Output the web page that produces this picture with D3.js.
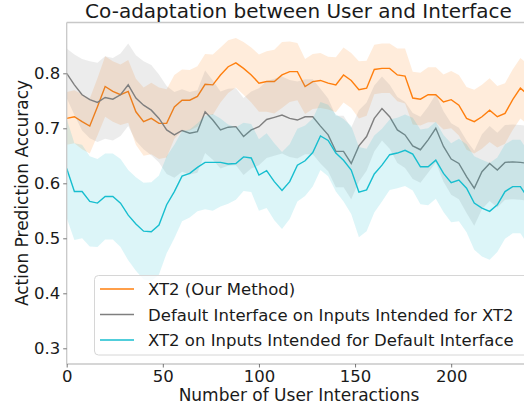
<!DOCTYPE html>
<html><head><meta charset="utf-8">
<script src="https://cdn.jsdelivr.net/npm/d3@7"></script>
<style>html,body{margin:0;padding:0;background:#fff;}svg{display:block;font-family:"DejaVu Sans",sans-serif;}</style>
</head><body><svg id="c" width="524" height="406"></svg>
<script>
const xs = d3.range(0, 241, 4);
const xTicks = [0, 50, 100, 150, 200];
const yTicks = [0.3, 0.4, 0.5, 0.6, 0.7, 0.8];
const seriesNames = ["XT2 (Our Method)", "Default Interface on Inputs Intended for XT2", "XT2 on Inputs Intended for Default Interface"];
const seriesColors = ["#ff7f0e", "#7f7f7f", "#17becf"];

const orangeMean = [0.718,0.721,0.712,0.704,0.739,0.776,0.767,0.761,0.767,0.730,0.712,0.718,0.709,0.709,0.739,0.751,0.751,0.758,0.780,0.779,
0.797,0.812,0.819,0.809,0.797,0.782,0.785,0.785,0.797,0.803,0.803,0.776,0.785,0.787,0.782,0.779,0.797,0.787,0.770,0.773,
0.807,0.809,0.809,0.797,0.795,0.755,0.753,0.761,0.761,0.748,0.752,0.742,0.718,0.712,0.721,0.733,0.721,0.727,0.752,0.773,0.761];
const greyMean = [0.800,0.779,0.761,0.752,0.747,0.756,0.753,0.761,0.779,0.755,0.742,0.733,0.718,0.697,0.688,0.696,0.691,0.694,0.730,0.715,
0.697,0.702,0.703,0.685,0.697,0.703,0.716,0.720,0.724,0.718,0.715,0.721,0.721,0.704,0.688,0.658,0.658,0.636,0.668,0.685,
0.718,0.736,0.721,0.697,0.688,0.668,0.661,0.679,0.700,0.667,0.644,0.636,0.612,0.591,0.621,0.636,0.624,0.638,0.639,0.638,0.636];
const tealMean = [0.627,0.585,0.585,0.567,0.564,0.576,0.576,0.564,0.542,0.526,0.513,0.512,0.524,0.561,0.585,0.613,0.618,0.629,0.638,0.638,
0.638,0.635,0.636,0.648,0.646,0.615,0.623,0.603,0.587,0.603,0.633,0.641,0.656,0.686,0.678,0.655,0.642,0.624,0.584,0.588,
0.617,0.633,0.652,0.655,0.660,0.653,0.630,0.630,0.642,0.618,0.601,0.606,0.591,0.564,0.555,0.549,0.561,0.585,0.594,0.594,0.573];

const orangeSpread = [0.048,0.048,0.05,0.05,0.052,0.055,0.055,0.055,0.057,0.06,0.062,0.065,0.065,0.062,0.058,0.056,0.055,0.055,0.055,0.055,
0.05,0.048,0.045,0.048,0.05,0.052,0.055,0.058,0.06,0.055,0.052,0.05,0.05,0.05,0.048,0.05,0.05,0.05,0.052,0.05,
0.045,0.045,0.045,0.048,0.05,0.048,0.048,0.05,0.05,0.05,0.052,0.055,0.057,0.058,0.058,0.058,0.056,0.055,0.055,0.055,0.055];
const greySpread = [0.045,0.055,0.065,0.07,0.072,0.075,0.075,0.075,0.075,0.078,0.08,0.082,0.08,0.08,0.078,0.075,0.075,0.075,0.075,0.072,
0.07,0.07,0.07,0.07,0.07,0.07,0.07,0.07,0.07,0.07,0.07,0.068,0.068,0.068,0.066,0.065,0.065,0.065,0.065,0.062,
0.06,0.058,0.058,0.06,0.06,0.06,0.06,0.06,0.062,0.064,0.065,0.065,0.066,0.068,0.068,0.068,0.068,0.068,0.068,0.068,0.068];
const tealSpread = [0.09,0.088,0.085,0.082,0.08,0.078,0.078,0.08,0.082,0.085,0.088,0.09,0.09,0.088,0.085,0.082,0.08,0.08,0.085,0.088,
0.08,0.072,0.066,0.062,0.062,0.065,0.068,0.07,0.07,0.068,0.066,0.064,0.062,0.062,0.065,0.07,0.075,0.08,0.082,0.075,
0.07,0.066,0.064,0.064,0.065,0.066,0.068,0.07,0.07,0.07,0.072,0.075,0.08,0.085,0.088,0.088,0.086,0.086,0.085,0.085,0.085];

const means = [orangeMean, greyMean, tealMean];
const spreads = [orangeSpread, greySpread, tealSpread];

const L = 66.7, R = 530, T = 22.5, B = 364;
const svg = d3.select("#c");
const x = d3.scaleLinear().domain([0, 241]).range([L, R]);
const y = d3.scaleLinear().domain([0.8 - (B - 73.3) / 550, 0.8 + (73.3 - T) / 550]).range([B, T]);

svg.append("defs").append("clipPath").attr("id", "clip")
  .append("rect").attr("x", L).attr("y", T).attr("width", R - L).attr("height", B - T);

const g = svg.append("g").attr("clip-path", "url(#clip)");
means.forEach((m, i) => {
  const pts = xs.map((xv, j) => ({x: xv, m: m[j], s: spreads[i][j]}));
  g.append("path").datum(pts)
    .attr("d", d3.area().x(d => x(d.x)).y0(d => y(d.m - d.s)).y1(d => y(d.m + d.s)))
    .attr("fill", seriesColors[i]).attr("fill-opacity", 0.15).attr("stroke", "none");
  g.append("path").datum(pts)
    .attr("d", d3.line().x(d => x(d.x)).y(d => y(d.m)))
    .attr("fill", "none").attr("stroke", seriesColors[i]).attr("stroke-width", 1.4);
});

// spines
const spine = "#c8c8c8";
svg.append("line").attr("x1", L).attr("x2", L).attr("y1", T).attr("y2", B).attr("stroke", spine).attr("stroke-width", 1.3);
svg.append("line").attr("x1", L).attr("x2", R).attr("y1", B).attr("y2", B).attr("stroke", spine).attr("stroke-width", 1.3);
svg.append("line").attr("x1", L).attr("x2", R).attr("y1", T).attr("y2", T).attr("stroke", spine).attr("stroke-width", 1.3);

const xAxis = svg.append("g").attr("transform", `translate(0,${B})`)
  .call(d3.axisBottom(x).tickValues(xTicks).tickSize(3.5).tickPadding(3).tickFormat(d3.format("d")));
const yAxis = svg.append("g").attr("transform", `translate(${L},0)`)
  .call(d3.axisLeft(y).tickValues(yTicks).tickSize(3.5).tickPadding(3).tickFormat(d3.format(".1f")));
[xAxis, yAxis].forEach(a => {
  a.select(".domain").remove();
  a.selectAll(".tick line").attr("stroke", "#555").attr("stroke-width", 0.8);
  a.selectAll(".tick text").attr("fill", "#1a1a1a").style("font-size", "16.5px").style("font-family", "DejaVu Sans");
});

svg.append("text").attr("x", 298.5).attr("y", 18).attr("text-anchor", "middle")
  .style("font-size", "20px").attr("fill", "#1a1a1a").text("Co-adaptation between User and Interface");
svg.append("text").attr("x", 299).attr("y", 401).attr("text-anchor", "middle")
  .style("font-size", "17px").attr("fill", "#1a1a1a").text("Number of User Interactions");
svg.append("text").attr("transform", `translate(28,193) rotate(-90)`).attr("text-anchor", "middle")
  .style("font-size", "17px").attr("fill", "#1a1a1a").text("Action Prediction Accuracy");

// legend
const lg = svg.append("g");
lg.append("rect").attr("x", 94.5).attr("y", 275.5).attr("width", 440).attr("height", 79.5).attr("rx", 4)
  .attr("fill", "#fff").attr("fill-opacity", 0.8).attr("stroke", "#d6d6d6").attr("stroke-width", 1);
const texts = seriesNames.map((n, i) => {
  const yy = 289 + i * 25.5;
  lg.append("line").attr("x1", 100).attr("x2", 134).attr("y1", yy).attr("y2", yy)
    .attr("stroke", seriesColors[i]).attr("stroke-width", 1.5);
  return lg.append("text").attr("x", 148).attr("y", yy + 6).style("font-size", "16px").attr("fill", "#1a1a1a").text(n);
});
// fit the longest legend entry to the reference width (~367px)
const w = texts[1].node().getComputedTextLength();
const fs = Math.min(18, 16 * 366 / w);
texts.forEach(t => t.style("font-size", fs + "px"));
</script></body></html>
